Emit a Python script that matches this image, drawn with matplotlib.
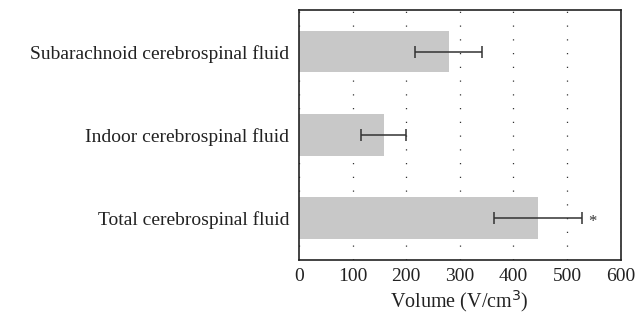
import numpy as np
import matplotlib.pyplot as plt

categories = ['Total cerebrospinal fluid', 'Indoor cerebrospinal fluid', 'Subarachnoid cerebrospinal fluid']
means = [445, 158, 279]
errors = [82, 42, 63]
star_x = 548

plt.rcParams['font.family'] = ['Liberation Serif', 'DejaVu Serif']

fig = plt.figure(figsize=(6.36, 3.21), dpi=100)
ax = fig.add_axes([0.470, 0.190, 0.506, 0.779])

y = np.arange(len(categories))
ax.barh(y, means, height=0.5, color='#c8c8c8', zorder=2)
ax.errorbar(means, y, xerr=errors, fmt='none', ecolor='#333333', elinewidth=1.1,
            capsize=4, capthick=1.1, zorder=3)
# asterisk glyph sits high in the em box, nudge it down to the error bar line
ax.text(star_x, -0.04, '*', ha='center', va='center', fontsize=12, color='#333333')

ax.set_xlim(0, 600)
ax.set_ylim(-0.5, 2.5)
ax.set_xticks(np.arange(0, 601, 100))
ax.set_yticks(y)
ax.set_yticklabels(categories)
ax.tick_params(length=0, labelsize=14, colors='#222222')
ax.tick_params(axis='y', pad=7)
ax.tick_params(axis='x', pad=6)
ax.set_xlabel('Volume (V/cm$^3$)', fontsize=14.5, color='#222222', labelpad=2)

ax.xaxis.grid(True, linestyle=(0, (1, 10)), color='#333333', linewidth=0.9, zorder=1)
for s in ax.spines.values():
    s.set_linewidth(1.2)
    s.set_color('#222222')

fig.savefig('out.png', dpi=100)
